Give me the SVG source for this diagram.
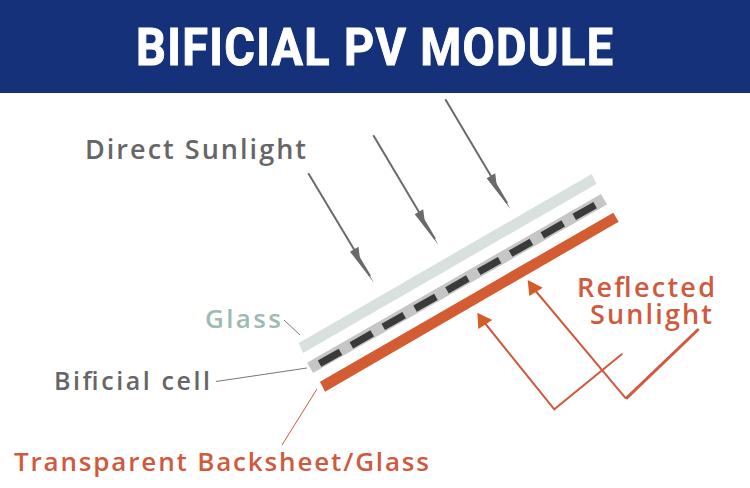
<svg xmlns="http://www.w3.org/2000/svg" width="750" height="488" viewBox="0 0 750 488">
<style>
.lbl{font-family:"Open Sans","Noto Sans","Liberation Sans",sans-serif;font-weight:600}
.gray{fill:#666667}
.red{fill:#cf5a3e}
.rl{fill:none;stroke:#cf5a3e;stroke-width:2}
.gl{fill:none;stroke:#6a6a6a;stroke-width:2}
.lead{fill:none;stroke-width:1}
</style>
<defs>
<polygon id="barb" points="0,0 -24,-31 -15.5,-36 -14,-24" fill="#6a6a6a"/>
<rect id="dash" x="-12" y="-3.6" width="24" height="7.2" fill="#3a3a3a"/>
</defs>
<rect width="750" height="488" fill="#fff"/>
<g id="header">
<rect width="750" height="93" fill="#14317a"/>
<text transform="translate(136,65) scale(.9,1)" x="0" y="0" textLength="530" lengthAdjust="spacing" stroke="#fff" stroke-width="1" style="font-family:'Roboto','Liberation Sans',sans-serif;font-weight:700;font-size:52px" fill="#fff">BIFICIAL PV MODULE</text>
</g>
<g id="glass">
<polygon points="298.7,343 303,353 596.5,184 591.7,174" fill="#d9e1de"/>
<text class="lbl" x="205" y="328" textLength="76" lengthAdjust="spacing" font-size="26" fill="#9dbbb0">Glass</text>
</g>
<g id="bificial-cell">
<polygon points="307.1,362.7 313.1,373.1 607,204.5 601,194.1" fill="#c6c6c6"/>
<g>
<use href="#dash" transform="translate(330,357.7) rotate(-29.5)"/>
<use href="#dash" transform="translate(361.8,339.4) rotate(-29.5)"/>
<use href="#dash" transform="translate(393.7,321) rotate(-29.5)"/>
<use href="#dash" transform="translate(425.5,302.7) rotate(-29.5)"/>
<use href="#dash" transform="translate(457.4,284.4) rotate(-29.5)"/>
<use href="#dash" transform="translate(489.2,266) rotate(-29.5)"/>
<use href="#dash" transform="translate(521,247.7) rotate(-29.5)"/>
<use href="#dash" transform="translate(552.8,229.4) rotate(-29.5)"/>
<use href="#dash" transform="translate(584.7,211) rotate(-29.5)"/>
</g>
<text class="lbl gray" x="54" y="390" textLength="156" lengthAdjust="spacing" font-size="25">Bificial cell</text>
</g>
<g id="backsheet">
<polygon points="320,381.7 325,391.7 618.7,221.7 613.3,212.7" fill="#d45c33"/>
<text class="lbl red" x="14" y="471" textLength="415" lengthAdjust="spacing" font-size="26">Transparent Backsheet/Glass</text>
</g>
<g id="direct-sunlight">
<text class="lbl gray" x="85" y="159" textLength="221" lengthAdjust="spacing" font-size="27">Direct Sunlight</text>
</g>
<g id="reflected-sunlight">
<text class="lbl red" x="577" y="297" textLength="138" lengthAdjust="spacing" font-size="27">Reflected</text>
<text class="lbl red" x="590" y="324" textLength="122" lengthAdjust="spacing" font-size="27">Sunlight</text>
</g>
<g id="connectors">
<path class="gl" d="M308.3,173.3L370,276"/>
<path class="gl" d="M373.3,135.3L435,239"/>
<path class="gl" d="M445.3,99.3L507,203"/>
<use href="#barb" transform="translate(374,282.7)"/>
<use href="#barb" transform="translate(438.7,245.3)"/>
<use href="#barb" transform="translate(510.7,209.3)"/>
<path class="lead" stroke="#777" d="M284,320L300,335"/>
<path class="lead" stroke="#777" d="M216,381.5L307,368"/>
<path class="lead" stroke="#cf5a3e" d="M282,445L317,389"/>
<path class="rl" d="M484,322L554.3,409.3L622.3,353.7"/>
<path class="rl" d="M534,289L626,398.7"/>
<path class="rl" style="stroke-width:3" d="M626,398.7L698.7,329"/>
<polygon points="477.3,312.7 478.3,329 492.3,320" fill="#d45c26"/>
<polygon points="527.7,280 529.3,296 542.7,287.7" fill="#d45c26"/>
</g>
</svg>
